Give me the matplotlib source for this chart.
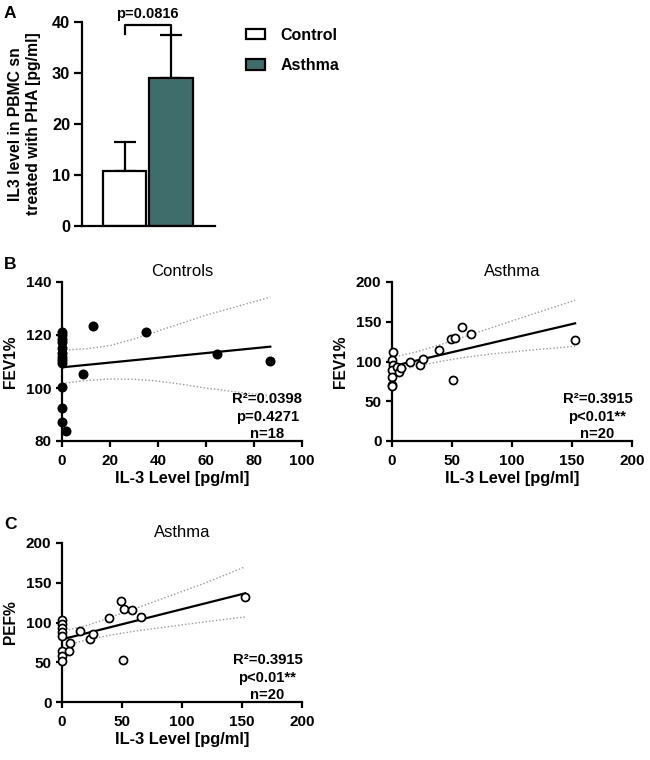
import matplotlib
matplotlib.use("Agg")
import matplotlib.pyplot as plt
from matplotlib.patches import Patch

plt.rcParams["font.family"] = ["Liberation Sans", "DejaVu Sans"]
plt.rcParams["font.weight"] = "bold"
plt.rcParams["axes.labelweight"] = "bold"

# ---- Panel A: IL3 in PBMC supernatant (mean + SD)
groups = ["Control", "Asthma"]
group_mean = [10.8, 29.1]
group_sd = [5.7, 8.4]
group_color = ["white", "#3F6D6B"]
p_groups = "p=0.0816"

# ---- Panel B (left): controls, FEV1% vs IL-3
ctrl_il3 = [0, 0, 0, 0, 0, 0, 0, 0, 0, 0, 0, 0, 1.5, 8.7, 12.9, 34.9, 64.4, 86.8]
ctrl_fev1 = [121.2, 120.0, 118.4, 117.5, 115.0, 113.3, 111.8, 110.5, 109.3, 100.3, 92.3, 87.0,
             83.9, 105.2, 123.3, 121.3, 113.0, 110.2]
ctrl_fit_x = [0, 86.8]
ctrl_fit_y = [107.8, 115.6]
ctrl_band_x = [0, 10, 20, 30, 40, 50, 60, 70, 86.8]
ctrl_band_hi = [114.3, 114.8, 116.0, 118.5, 121.5, 124.5, 127.5, 130.0, 134.3]
ctrl_band_lo = [101.7, 102.8, 103.4, 103.3, 102.6, 101.4, 100.0, 98.8, 97.0]
ctrl_stats = ["R²=0.0398", "p=0.4271", "n=18"]

# ---- Panel B (right): asthma, FEV1% vs IL-3
ast_il3 = [0.5, 0, 1, 0, 0, 0, 0, 4, 6, 7.5, 15, 23, 25.8, 39, 49, 52.6, 58.7, 66, 51, 152.6]
ast_fev1 = [112, 101.5, 96, 89, 80.5, 71, 69, 93, 87, 92, 99.4, 95, 102.7, 115, 128, 129.6,
            144, 135, 77, 126.6]
ast_fit_x = [0, 152.6]
ast_fit_y = [94.0, 148.0]
ast_band_x = [0, 20, 40, 60, 80, 100, 120, 152.6]
ast_band_hi = [105, 112, 121, 131, 141, 151, 161, 177]
ast_band_lo = [87, 94, 100, 105, 109, 112, 115, 119]
ast_stats = ["R²=0.3915", "p<0.01**", "n=20"]

# ---- Panel C: asthma, PEF% vs IL-3
pef_il3 = [0, 0, 0, 0, 0, 0, 0, 0, 6, 7, 14.7, 23, 25.5, 38.8, 49, 51.8, 58.7, 65.6, 51, 152.6]
pef_val = [103.6, 98.5, 93, 87.6, 82.6, 63.7, 57.4, 52, 64, 74, 89, 79, 85, 105.7, 126.6,
           117.4, 116, 106.5, 52.4, 131.7]
pef_fit_x = [0, 152.6]
pef_fit_y = [78.8, 136.7]
pef_band_x = [0, 20, 40, 60, 80, 100, 120, 152.6]
pef_band_hi = [89, 96, 106, 117, 128, 139, 150, 170]
pef_band_lo = [70, 78, 84, 89, 93, 97, 101, 107]
pef_stats = ["R²=0.3915", "p<0.01**", "n=20"]

TICK_FS = 11.0
LABEL_FS = 11.8


def style(ax):
    for s in ("top", "right"):
        ax.spines[s].set_visible(False)
    for s in ("left", "bottom"):
        ax.spines[s].set_linewidth(1.6)
    ax.tick_params(direction="out", length=4.6, width=1.6, labelsize=TICK_FS, pad=3)


def bold_ticks(ax):
    for lab in ax.get_xticklabels() + ax.get_yticklabels():
        lab.set_fontweight("bold")


def scatter_panel(ax, x, y, fx, fy, bx, bhi, blo, stats, filled, title, ylabel,
                  xlim, ylim, yticks, xticks):
    style(ax)
    ax.plot(bx, bhi, color="#9a9a9a", lw=1.0, ls=(0, (1, 1.5)))
    ax.plot(bx, blo, color="#9a9a9a", lw=1.0, ls=(0, (1, 1.5)))
    ax.plot(fx, fy, color="black", lw=1.6)
    if filled:
        ax.plot(x, y, "o", color="black", ms=6.2, clip_on=False, zorder=5)
    else:
        ax.plot(x, y, "o", mfc="white", mec="black", mew=1.25, ms=5.8,
                clip_on=False, zorder=5)
    ax.set_xlim(*xlim)
    ax.set_ylim(*ylim)
    ax.set_xticks(xticks)
    ax.set_yticks(yticks)
    ax.tick_params(axis="x", pad=5)
    bold_ticks(ax)
    ax.set_title(title, fontsize=12, fontweight="normal", pad=4)
    ax.set_xlabel("IL-3 Level [pg/ml]", fontsize=LABEL_FS)
    ax.set_ylabel(ylabel, fontsize=11.2)
    ax.xaxis.set_label_coords(0.5, -0.19)
    ax.yaxis.set_label_coords(-0.183, 0.5)
    for txt, yf in zip(stats, [0.241, 0.126, 0.019]):
        ax.text(0.856, yf, txt, transform=ax.transAxes, ha="center", va="baseline",
                fontsize=10.7, fontweight="bold")


fig = plt.figure(figsize=(6.5, 7.6), dpi=100)
W, H = 650, 760


def px_axes(l, t, r, b):
    return fig.add_axes([l / W, 1 - b / H, (r - l) / W, (b - t) / H])


# Panel A
axA = px_axes(82, 22, 215, 226)
style(axA)
pos = [0, 1]
axA.bar(pos, group_mean, width=0.925, color=group_color, edgecolor="black", linewidth=1.6,
        zorder=2)
axA.errorbar(pos, group_mean, yerr=[[0, 0], group_sd], fmt="none", ecolor="black",
             elinewidth=1.6, capsize=8, capthick=1.6, zorder=1)
axA.set_xlim(-0.914, 1.946)
axA.set_ylim(0, 40)
axA.set_yticks([0, 10, 20, 30, 40])
axA.set_xticks([])
axA.tick_params(axis="y", length=5.5, pad=3, labelsize=11.8)
bold_ticks(axA)
axA.set_ylabel("IL3 level in PBMC sn\ntreated with PHA [pg/ml]", fontsize=11.3,
               linespacing=1.25)
axA.yaxis.set_label_coords(-0.308, 0.5)
top = group_mean[1] + group_sd[1]
axA.plot([pos[0], pos[0], pos[1], pos[1]], [top + 0.2, top + 2.0, top + 2.0, top],
         color="black", lw=1.6, clip_on=False)
axA.text(0.5, top + 2.6, p_groups, ha="center", va="bottom", fontsize=10.5,
         fontweight="bold")

handles = [Patch(facecolor=c, edgecolor="black", linewidth=1.6) for c in group_color]
leg = fig.legend(handles, groups, loc="upper left", bbox_to_anchor=(246 / W, 1 - 28 / H),
                 frameon=False, fontsize=11.5, handlelength=1.2, handleheight=0.6,
                 handletextpad=0.95, labelspacing=0.95, borderpad=0, borderaxespad=0)
for t in leg.get_texts():
    t.set_fontweight("bold")

# Panel B
axB1 = px_axes(62, 282, 302, 441)
scatter_panel(axB1, ctrl_il3, ctrl_fev1, ctrl_fit_x, ctrl_fit_y, ctrl_band_x, ctrl_band_hi,
              ctrl_band_lo, ctrl_stats, True, "Controls", "FEV1%",
              (0, 100), (80, 140), [80, 100, 120, 140], [0, 20, 40, 60, 80, 100])
axB2 = px_axes(392, 282, 632, 441)
scatter_panel(axB2, ast_il3, ast_fev1, ast_fit_x, ast_fit_y, ast_band_x, ast_band_hi,
              ast_band_lo, ast_stats, False, "Asthma", "FEV1%",
              (0, 200), (0, 200), [0, 50, 100, 150, 200], [0, 50, 100, 150, 200])

# Panel C
axC = px_axes(62, 543, 302, 702)
scatter_panel(axC, pef_il3, pef_val, pef_fit_x, pef_fit_y, pef_band_x, pef_band_hi,
              pef_band_lo, pef_stats, False, "Asthma", "PEF%",
              (0, 200), (0, 200), [0, 50, 100, 150, 200], [0, 50, 100, 150, 200])

for lab, yy in zip("ABC", [6, 257, 517]):
    fig.text(4 / W, 1 - yy / H, lab, ha="left", va="top", fontsize=12.5, fontweight="bold")

fig.savefig("out.png", dpi=100)
